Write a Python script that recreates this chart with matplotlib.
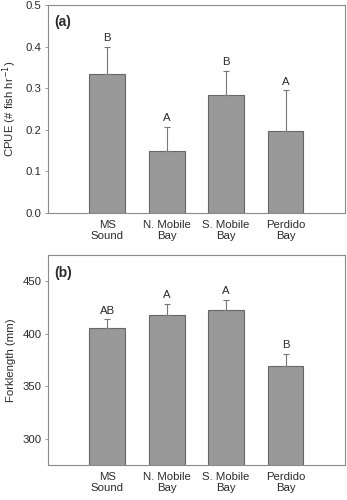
import matplotlib
matplotlib.use("Agg")
import matplotlib.pyplot as plt

plt.rcParams['font.family'] = ['Liberation Sans', 'DejaVu Sans']

sites = ["MS\nSound", "N. Mobile\nBay", "S. Mobile\nBay", "Perdido\nBay"]
cpue = [0.334, 0.149, 0.283, 0.197]
cpue_err = [0.066, 0.058, 0.059, 0.098]
cpue_letters = ["B", "A", "B", "A"]
fl = [405.7, 417.5, 423.0, 369.4]
fl_err = [8.3, 10.9, 9.5, 11.5]
fl_letters = ["AB", "A", "A", "B"]

fig = plt.figure(figsize=(3.47, 5.0), dpi=100)
ax1 = fig.add_axes([0.138, 0.574, 0.856, 0.416])
ax2 = fig.add_axes([0.138, 0.070, 0.856, 0.420])

bar_color = "#999999"
edge_color = "#666666"
spine_color = "#8a8a8a"
txt = "#2b2b2b"
fs = 8.2

def panel(ax, vals, errs, letters, ylim, yticks, yfmt, ylabel, tag):
    x = list(range(1, len(vals) + 1))
    ax.bar(x, vals, width=0.6, color=bar_color, edgecolor=edge_color, linewidth=0.8, zorder=2)
    ax.errorbar(x, vals, yerr=[[0]*len(errs), errs], fmt='none', ecolor="#777777",
                elinewidth=0.8, capsize=2.5, capthick=0.8, zorder=3)
    for xi, v, e, l in zip(x, vals, errs, letters):
        ax.annotate(l, (xi, v + e), xytext=(0, 2.5), textcoords='offset points',
                    ha='center', va='bottom', fontsize=fs, color=txt)
    ax.set_xlim(0, 5)
    ax.set_ylim(*ylim)
    ax.set_yticks(yticks)
    ax.set_yticklabels([yfmt.format(t) for t in yticks])
    ax.set_xticks(x)
    ax.set_xticklabels(sites, fontsize=fs, color=txt, linespacing=1.15)
    ax.tick_params(axis='x', length=0, pad=5)
    ax.tick_params(axis='y', length=2.5, width=0.6, color=spine_color, labelsize=fs,
                   labelcolor=txt, pad=2)
    for s in ax.spines.values():
        s.set_color(spine_color)
        s.set_linewidth(0.8)
    ax.set_ylabel(ylabel, fontsize=fs, color=txt, labelpad=5)
    ax.text(0.02, 0.95, tag, transform=ax.transAxes, fontsize=10, fontweight='bold',
            va='top', ha='left', color=txt)

panel(ax1, cpue, cpue_err, cpue_letters, (0, 0.5), [0.0, 0.1, 0.2, 0.3, 0.4, 0.5], "{:.1f}",
      "CPUE (# fish hr$^{-1}$)", "(a)")
panel(ax2, fl, fl_err, fl_letters, (275, 475), [300, 350, 400, 450], "{:d}",
      "Forklength (mm)", "(b)")

fig.savefig("out.png", dpi=100)
